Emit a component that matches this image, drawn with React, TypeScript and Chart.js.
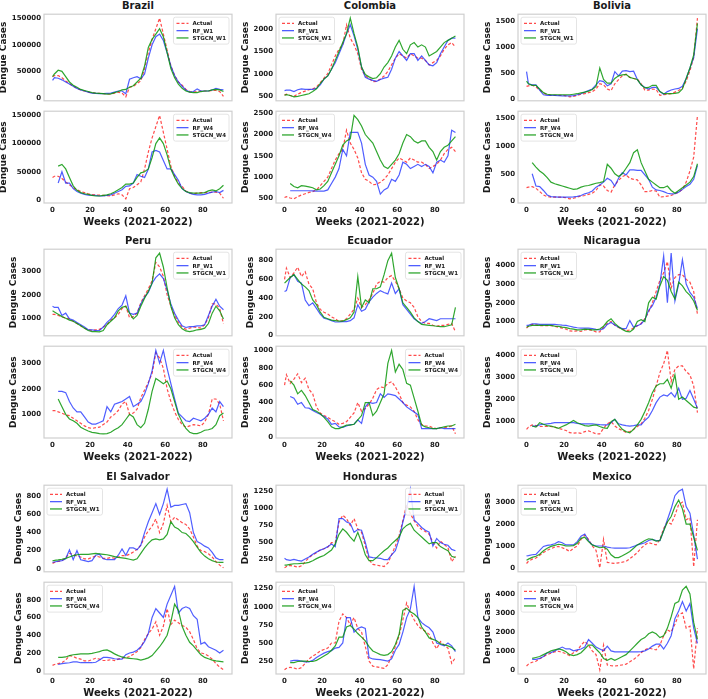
import React, { useEffect, useRef } from "react";
import { Chart, registerables } from "chart.js";

Chart.register(...registerables);
Chart.defaults.font.family = '"DejaVu Sans", sans-serif';

// Epidemiological weeks sampled for every series (2021-2022)
const WEEKS = [
  0, 1,
  3, 5, 7, 9, 11, 13, 15, 17, 19,
  21, 23, 25, 27, 29, 31, 33, 35, 37, 39,
  41, 43, 45, 47, 49, 51, 53, 55, 57, 59,
  61, 63, 65, 67, 69, 71, 73, 75, 77, 79,
  81, 83, 85, 87, 89, 91,
];
const X_TICKS = [0, 20, 40, 60, 80];

// ---------------- Brazil ----------------
const BRAZIL_ACTUAL = [
  40000, 42000,
  42000, 38000, 32000, 27000, 22000, 18000, 15000, 13000, 11000,
  9500, 9000, 8500, 8000, 7500, 7000, 9000, 11000, 9000, 2000,
  20000, 22000, 27000, 32000, 55000, 85000, 110000, 130000, 150000, 120000,
  90000, 60000, 42000, 30000, 24000, 16000, 12000, 11000, 12000, 13000,
  13000, 13000, 14000, 14000, 12000, 3000,
];
const BRAZIL_RF_W1 = [
  33000, 38000,
  37000, 34000, 30000, 26000, 22000, 18000, 15000, 13000, 11000,
  9000, 8500, 8000, 8000, 8500, 9000, 11000, 13000, 13000, 8000,
  35000, 38000, 40000, 36000, 45000, 75000, 100000, 115000, 120000, 108000,
  85000, 60000, 42000, 30000, 22000, 15000, 11000, 12000, 17000, 13000,
  13000, 13000, 15000, 18000, 16000, 15000,
];
const BRAZIL_STGCN_W1 = [
  40000, 45000,
  52000, 50000, 40000, 30000, 24000, 20000, 16000, 14000, 12000,
  10000, 9000, 8500, 8000, 7000, 7500, 10000, 12000, 15000, 16000,
  20000, 23000, 30000, 37000, 60000, 95000, 110000, 120000, 130000, 115000,
  85000, 55000, 38000, 26000, 18000, 13000, 11000, 10000, 10000, 12000,
  13000, 13000, 15000, 16000, 15000, 12000,
];
const BRAZIL_RF_W4 = [
  null, null,
  30000, 50000, 30000, 30000, 20000, 15000, 12000, 10000, 8500,
  8000, 8000, 7000, 7000, 8000, 9000, 12000, 15000, 18000, 24000,
  25000, 30000, 45000, 42000, 40000, 55000, 85000, 88000, 85000, 70000,
  55000, 55000, 45000, 35000, 20000, 15000, 12000, 10000, 9000, 9000,
  10000, 12000, 14000, 15000, 13000, 17000,
];
const BRAZIL_STGCN_W4 = [
  null, null,
  60000, 63000, 55000, 40000, 25000, 17000, 13000, 11000, 10000,
  8000, 7000, 7000, 8000, 9000, 11000, 14000, 18000, 22000, 28000,
  28000, 30000, 40000, 48000, 50000, 55000, 75000, 100000, 110000, 100000,
  80000, 55000, 40000, 28000, 20000, 15000, 13000, 12000, 12000, 12000,
  13000, 16000, 18000, 16000, 20000, 26000,
];
const BRAZIL_TICKS = [0, 50000, 100000, 150000];

// ---------------- Colombia ----------------
const COLOMBIA_ACTUAL = [
  520, 540,
  510, 490, 540, 580, 610, 640, 660, 700, 800,
  900, 1000, 1200, 1400, 1550, 1650, 2100, 1800, 1650, 1450,
  1100, 950, 900, 820, 830, 880, 950, 1050, 1200, 1350,
  1450, 1400, 1350, 1450, 1400, 1350, 1350, 1300, 1200, 1250,
  1300, 1400, 1550, 1650, 1700, 1600,
];
const COLOMBIA_RF_W1 = [
  620, 630,
  630, 600, 640, 660, 650, 650, 650, 670, 750,
  880, 950, 1100, 1250, 1450, 1650, 1900, 2100, 1850, 1550,
  1150, 920, 880, 850, 830, 870, 900, 920, 1100, 1350,
  1500, 1400, 1300, 1450, 1450, 1300, 1400, 1300, 1200, 1180,
  1250, 1450, 1600, 1750, 1800, 1800,
];
const COLOMBIA_STGCN_W1 = [
  520, 530,
  510, 480, 490, 510, 530, 550, 600, 660, 780,
  880, 950, 1100, 1300, 1500, 1700, 1900, 2250, 1900, 1600,
  1150, 980, 930, 890, 910, 1000, 1150, 1250, 1400, 1600,
  1750, 1550, 1450, 1650, 1700, 1600, 1650, 1600, 1400, 1450,
  1500, 1600, 1700, 1750, 1800, 1850,
];
const COLOMBIA_RF_W4 = [
  null, null,
  680, 680, 680, 680, 680, 680, 675, 670, 670,
  670, 700, 850, 1000, 1200, 1650, 1500, 2050, 2050, 2050,
  1800, 1300, 1050, 1000, 900, 600, 700, 750, 950, 900,
  1050, 1350, 1300, 1200, 1250, 1300, 1250, 1300, 1250, 1100,
  1350, 1400, 1350, 1500, 2100, 2050,
];
const COLOMBIA_STGCN_W4 = [
  null, null,
  850, 780, 750, 800, 790, 770, 750, 700, 720,
  800, 900, 1100, 1300, 1500, 1750, 1850, 1900, 2450, 2350,
  2200, 2000, 1900, 1800, 1600, 1400, 1250, 1200, 1300, 1400,
  1550, 1800, 2000, 1950, 1850, 1800, 1850, 1850, 1700, 1600,
  1400, 1600, 1700, 1750, 1850, 1950,
];
const COLOMBIA_TICKS = [500, 1000, 1500, 2000, 2500];

// ---------------- Bolivia ----------------
const BOLIVIA_ACTUAL = [
  250, 260,
  270, 240, 180, 120, 90, 80, 80, 80, 80,
  70, 50, 60, 80, 100, 110, 130, 150, 200, 300,
  280, 200, 170, 300, 380, 450, 480, 420, 400, 390,
  300, 180, 180, 200, 190, 80, 90, 100, 110, 140,
  170, 220, 350, 550, 800, 1550,
];
const BOLIVIA_RF_W1 = [
  530, 300,
  280, 280, 180, 90, 80, 80, 80, 75, 70,
  70, 70, 75, 90, 110, 140, 170, 200, 280, 360,
  340, 260, 300, 530, 450, 540, 550, 530, 540, 380,
  280, 230, 200, 230, 230, 150, 100, 150, 180, 200,
  210, 250, 400, 600, 800, 1350,
];
const BOLIVIA_STGCN_W1 = [
  350, 300,
  270, 270, 200, 130, 100, 90, 90, 90, 90,
  90, 90, 100, 110, 125, 140, 160, 190, 250, 600,
  380, 310, 310, 400, 450, 470, 480, 420, 400, 380,
  280, 220, 230, 270, 270, 150, 110, 110, 110, 115,
  130, 200, 400, 600, 850, 1450,
];
const BOLIVIA_RF_W4 = [
  null, null,
  500, 280, 270, 200, 120, 90, 85, 80, 80,
  80, 80, 85, 95, 110, 140, 160, 190, 260, 300,
  350, 420, 380, 280, 420, 520, 480, 570, 570, 560,
  560, 480, 400, 260, 210, 200, 180, 150, 140, 145,
  170, 220, 270, 310, 400, 650,
];
const BOLIVIA_STGCN_W4 = [
  null, null,
  700, 620, 550, 500, 430, 350, 320, 300, 280,
  260, 240, 220, 230, 260, 280, 290, 310, 330, 340,
  360, 670, 600, 500, 450, 500, 600, 700, 880, 930,
  700, 550, 400, 350, 300, 250, 250, 280, 200, 150,
  200, 250, 300, 350, 450, 680,
];
const BOLIVIA_TICKS = [0, 500, 1000, 1500];

// ---------------- Peru ----------------
const PERU_ACTUAL = [
  1150, 1150,
  1100, 1050, 980, 950, 850, 750, 650, 550, 480,
  450, 480, 500, 600, 700, 900, 1000, 1150, 1400, 1500,
  1000, 1050, 1200, 1650, 1950, 2250, 2600, 3400, 3200, 2800,
  2000, 1500, 1100, 800, 600, 500, 550, 600, 580, 550,
  700, 1000, 1600, 1600, 1400, 750,
];
const PERU_RF_W1 = [
  1500, 1450,
  1450, 1100, 1200, 950, 900, 800, 700, 600, 480,
  480, 450, 450, 600, 800, 950, 1150, 1400, 1550, 1950,
  1200, 1150, 1200, 1600, 1900, 2100, 2500, 2750, 2900, 2700,
  2200, 1600, 1200, 900, 650, 580, 620, 620, 650, 650,
  700, 1100, 1500, 1800, 1500, 1350,
];
const PERU_STGCN_W1 = [
  1300, 1250,
  1150, 1050, 980, 900, 850, 750, 650, 550, 450,
  400, 400, 390, 450, 700, 850, 1000, 1300, 1450, 1500,
  1200, 950, 1100, 1500, 1850, 2150, 2500, 3600, 3800, 3200,
  2300, 1500, 1000, 700, 520, 430, 400, 430, 480, 500,
  550, 750, 1200, 1500, 1300, 950,
];
const PERU_RF_W4 = [
  null, null,
  1900, 1900, 1850, 1500, 1250, 1100, 1100, 900, 700,
  620, 620, 680, 750, 1300, 1100, 1400, 1450, 1500, 1600,
  1700, 1300, 1400, 1500, 1800, 2200, 2700, 3500, 3000, 3500,
  2800, 2200, 1600, 1050, 900, 750, 720, 850, 800, 750,
  850, 1000, 1250, 1100, 1500, 1300,
];
const PERU_STGCN_W4 = [
  null, null,
  1600, 1300, 1000, 820, 750, 650, 500, 420, 350,
  300, 280, 250, 240, 250, 300, 400, 480, 600, 800,
  1000, 900, 600, 480, 650, 1200, 1900, 2400, 2300, 2200,
  2300, 2000, 1500, 1000, 700, 450, 300, 250, 250, 300,
  380, 400, 450, 600, 950, 1050,
];
const PERU_TICKS = [0, 1000, 2000, 3000, 4000];

// ---------------- Ecuador ----------------
const ECUADOR_ACTUAL = [
  600, 720,
  620, 670, 730, 630, 680, 550, 500, 350, 280,
  250, 230, 200, 180, 150, 160, 180, 230, 280, 400,
  300, 330, 380, 450, 550, 580, 570, 620, 640, 580,
  500, 400, 370, 350, 300, 200, 150, 130, 130, 110,
  100, 110, 110, 120, 130, 40,
];
const ECUADOR_RF_W1 = [
  470, 480,
  620, 650, 580, 560, 380, 320, 350, 290, 230,
  185, 175, 160, 145, 145, 150, 150, 160, 190, 330,
  260, 280, 360, 410, 450, 480, 460, 445, 560, 450,
  500, 330, 280, 230, 180, 150, 130, 150, 180, 170,
  160, 180, 180, 180, 180, 180,
];
const ECUADOR_STGCN_W1 = [
  560, 580,
  620, 650, 600, 550, 520, 480, 380, 330, 250,
  195, 180, 165, 160, 155, 155, 170, 190, 250, 630,
  300, 380, 350, 500, 500, 520, 650, 800, 880, 620,
  500, 350, 300, 250, 190, 150, 120, 115, 110, 105,
  100, 95, 95, 105, 115, 300,
];
const ECUADOR_RF_W4 = [
  null, null,
  470, 450, 380, 400, 340, 335, 310, 285, 265,
  240, 210, 150, 160, 120, 115, 130, 145, 150, 200,
  160, 350, 400, 390, 400, 500, 460, 500, 490, 480,
  440, 400, 350, 320, 290, 260, 100, 100, 100, 100,
  100, 110, 100, 100, 100, 100,
];
const ECUADOR_STGCN_W4 = [
  null, null,
  650, 600, 500, 540, 480, 400, 320, 300, 270,
  230, 180, 120, 100, 100, 120, 140, 140, 150, 200,
  250, 400, 400, 250, 300, 400, 500, 850, 1000, 750,
  840, 780, 620, 600, 450, 300, 140, 120, 110, 100,
  100, 110, 120, 130, 130, 150,
];
const ECUADOR_TICKS = [0, 200, 400, 600, 800, 1000];

// ---------------- Nicaragua ----------------
const NICARAGUA_ACTUAL = [
  650, 750,
  850, 820, 780, 780, 780, 780, 750, 700, 650,
  600, 500, 480, 500, 470, 550, 580, 520, 450, 450,
  700, 900, 1000, 800, 680, 600, 520, 550, 650, 780,
  900, 1150, 1500, 2000, 2600, 3200, 3600, 4200, 2800, 3350,
  3500, 3500, 3250, 3100, 2600, 1400,
];
const NICARAGUA_RF_W1 = [
  800, 800,
  880, 880, 850, 850, 850, 850, 850, 830, 810,
  800, 750, 700, 670, 650, 650, 650, 620, 580, 550,
  620, 850, 950, 820, 700, 620, 620, 1050, 700, 780,
  870, 1100, 1600, 1850, 2300, 3000, 4500, 2000, 4650, 2100,
  3000, 4300, 3000, 2550, 2300, 1700,
];
const NICARAGUA_STGCN_W1 = [
  700, 750,
  800, 800, 800, 800, 800, 800, 760, 740, 700,
  680, 620, 600, 560, 560, 600, 580, 560, 560, 600,
  750, 1000, 1150, 900, 720, 580, 480, 450, 600, 1000,
  1100, 1000, 2000, 2300, 2200, 2900, 3400, 3200, 2600, 2200,
  3100, 2900, 2600, 2400, 2100, 1600,
];
const NICARAGUA_RF_W4 = [
  null, null,
  800, 800, 850, 880, 900, 920, 950, 950, 950,
  950, 950, 950, 920, 900, 900, 900, 900, 880, 860,
  850, 850, 950, 1100, 900, 850, 820, 800, 820, 850,
  850, 1050, 1200, 1500, 1850, 2100, 2200, 2150, 2300, 2100,
  2500, 2000, 2050, 2400, 2000, 1600,
];
const NICARAGUA_STGCN_W4 = [
  null, null,
  800, 750, 950, 880, 820, 800, 750, 700, 780,
  850, 950, 1050, 950, 880, 820, 800, 830, 850, 780,
  720, 700, 1000, 1100, 850, 650, 550, 500, 650, 850,
  1100, 1450, 1850, 2300, 2600, 2700, 2700, 2900, 2500, 3100,
  2000, 2100, 1950, 1800, 1650, 1600,
];
const NICARAGUA_TICKS = [0, 1000, 2000, 3000, 4000];

// ---------------- El Salvador ----------------
const SALVADOR_ACTUAL = [
  60, 70,
  80, 90, 120, 170, 160, 140, 130, 110, 110,
  125, 140, 130, 115, 115, 125, 115, 130, 145, 145,
  160, 185, 215, 260, 350, 420, 470, 550, 400, 500,
  700, 520, 570, 540, 510, 490, 440, 350, 250, 200,
  190, 165, 130, 80, 40, 10,
];
const SALVADOR_RF_W1 = [
  70, 75,
  85, 90, 110, 210, 100, 200, 100, 90, 80,
  90, 150, 160, 110, 100, 100, 100, 150, 220, 150,
  230, 230, 210, 260, 400, 520, 620, 720, 600, 720,
  880, 680, 700, 700, 710, 720, 620, 400, 300, 280,
  250, 230, 180, 120, 100, 100,
];
const SALVADOR_STGCN_W1 = [
  90, 92,
  98, 105, 115, 130, 145, 155, 160, 160, 160,
  165, 170, 165, 160, 155, 145, 135, 125, 120, 115,
  105, 95, 110, 170, 230, 280, 320, 330, 320, 330,
  380, 520, 460, 440, 400, 390, 350, 300, 240, 180,
  140, 110, 90, 75, 70, 70,
];
const SALVADOR_RF_W4 = [
  null, null,
  70, 80, 85, 90, 100, 100, 90, 90, 90,
  90, 95, 120, 150, 150, 145, 135, 130, 130, 180,
  200, 210, 230, 270, 330, 420, 600, 700, 650, 600,
  750, 850, 950, 650, 700, 720, 700, 620, 580, 300,
  320, 270, 250, 230, 200, 230,
];
const SALVADOR_STGCN_W4 = [
  null, null,
  150, 150, 155, 170, 180, 185, 190, 190, 190,
  195, 205, 215, 230, 235, 215, 190, 170, 155, 145,
  140, 135, 130, 120, 130, 145, 170, 220, 270, 330,
  400, 550, 750, 680, 500, 400, 320, 280, 230, 180,
  150, 135, 120, 110, 105, 100,
];
const SALVADOR_TICKS = [0, 200, 400, 600, 800];

// ---------------- Honduras ----------------
const HONDURAS_ACTUAL = [
  130, 150,
  165, 155, 140, 160, 220, 280, 320, 350, 390,
  410, 430, 500, 500, 800, 900, 850, 750, 850, 700,
  650, 450, 250, 180, 170, 160, 150, 200, 320, 450,
  600, 820, 1050, 920, 820, 740, 690, 660, 620, 500,
  420, 520, 470, 430, 220, 300,
];
const HONDURAS_RF_W1 = [
  270, 250,
  240, 255, 240, 230, 260, 290, 330, 360, 390,
  410, 440, 480, 440, 850, 850, 800, 780, 650, 690,
  680, 500, 290, 280, 275, 270, 250, 250, 320, 380,
  550, 800, 1000, 1280, 830, 780, 720, 680, 650, 450,
  560, 500, 475, 460, 400, 380,
];
const HONDURAS_STGCN_W1 = [
  170, 170,
  180, 190, 190, 195, 200, 210, 235, 265, 290,
  310, 350, 390, 480, 620, 700, 650, 580, 520, 650,
  500, 320, 235, 235, 280, 330, 380, 420, 480, 530,
  580, 700, 750, 780, 680, 630, 580, 530, 480, 500,
  500, 440, 410, 380, 300, 280,
];
const HONDURAS_RF_W4 = [
  null, null,
  250, 260, 260, 250, 240, 240, 260, 300, 330,
  360, 380, 395, 430, 440, 500, 850, 850, 650, 700,
  720, 700, 300, 280, 275, 270, 260, 250, 280, 400,
  480, 650, 850, 970, 1280, 850, 780, 740, 710, 650,
  500, 480, 460, 500, 460, 380,
];
const HONDURAS_STGCN_W4 = [
  null, null,
  230, 230, 245, 250, 250, 245, 245, 260, 290,
  320, 350, 400, 460, 580, 580, 720, 740, 690, 630,
  580, 530, 450, 390, 365, 340, 330, 340, 380, 480,
  620, 950, 980, 930, 900, 850, 720, 650, 570, 550,
  530, 490, 475, 460, 440, 400,
];
const HONDURAS_TICKS = [250, 500, 750, 1000, 1250];

// ---------------- Mexico ----------------
const MEXICO_ACTUAL = [
  200, 300,
  400, 450, 580, 700, 800, 880, 950, 980, 920,
  850, 750, 900, 1000, 1300, 1500, 1300, 1000, 800, 0,
  1300, 250, 220, 200, 230, 260, 300, 420, 550, 700,
  900, 1050, 1150, 1100, 1050, 1300, 1800, 2100, 2000, 2400,
  2900, 3000, 2200, 2300, 50, 2200,
];
const MEXICO_RF_W1 = [
  550, 560,
  600, 620, 800, 980, 1030, 1050, 1100, 1200, 1150,
  1050, 1050, 1050, 1200, 1450, 1550, 1250, 1050, 1000, 1000,
  1000, 950, 920, 900, 900, 900, 900, 920, 980, 1050,
  1100, 1150, 1250, 1300, 1250, 1250, 1700, 2200, 2700, 3300,
  3500, 3600, 2800, 2500, 1500, 400,
];
const MEXICO_STGCN_W1 = [
  350, 400,
  480, 530, 620, 780, 900, 980, 1030, 1080, 1050,
  1000, 1000, 1020, 1120, 1350, 1400, 1200, 1050, 980, 920,
  950, 850, 600, 470, 470, 550, 650, 750, 900, 1050,
  1150, 1250, 1330, 1300, 1220, 1250, 1700, 2100, 2350, 2800,
  3100, 2700, 2000, 2000, 1400, 800,
];
const MEXICO_RF_W4 = [
  null, null,
  550, 550, 600, 700, 900, 900, 1000, 1100, 1200,
  1100, 1100, 1000, 1050, 1100, 1200, 1600, 1400, 1200, 1100,
  1000, 1250, 1000, 950, 950, 950, 950, 950, 950, 950,
  960, 1000, 1100, 1250, 1350, 1350, 1100, 1400, 1800, 2700,
  3100, 3600, 3100, 3500, 2200, 1400,
];
const MEXICO_STGCN_W4 = [
  null, null,
  600, 650, 700, 800, 900, 1000, 1050, 1100, 1050,
  950, 800, 750, 800, 900, 1100, 1300, 1300, 1100, 900,
  600, 500, 600, 500, 600, 700, 800, 1000, 1200, 1400,
  1600, 1700, 1900, 2000, 1900, 1700, 1800, 2200, 2800, 3500,
  3600, 4200, 4400, 4000, 2500, 1600,
];
const MEXICO_TICKS = [0, 1000, 2000, 3000, 4000];

// ---------------- styling / layout ----------------
const ACTUAL_COLOR = "rgba(255, 30, 30, 0.8)";
const RF_COLOR = "rgba(20, 40, 255, 0.75)";
const STGCN_COLOR = "rgba(10, 150, 10, 0.85)";
const TEXT_COLOR = "#1a1a1a";
const FONT = '"DejaVu Sans", sans-serif';

const TICK_FS = 7;
const YLABEL_FS = 9;
const TITLE_FS = 10;
const XLABEL_FS = 10;
const LEGEND_FS = 5.5;

const COL_LEFT = [44, 276, 518];
const ROW_TOP = [13, 248, 484];
const BOX_W = 188;
const BOX_H = 93;
const PANEL_GAP = 4;
const AXIS_W = 44;
const PAD_T = 6;
const PAD_R = 2;
const PAD_B = 2;
const X_AXIS_H = 13;

type Series = (number | null)[];
type Panel = {
  actual: Series;
  rf: Series;
  stgcn: Series;
  rfLabel: string;
  stgcnLabel: string;
  ticks: number[];
  legend: "left" | "right";
};
type Country = { name: string; top: Panel; bottom: Panel };

function pair(
  actual: Series, rfW1: Series, stW1: Series, rfW4: Series, stW4: Series,
  ticks: number[], legTop: "left" | "right", legBottom: "left" | "right"
) {
  return {
    top: { actual, rf: rfW1, stgcn: stW1, rfLabel: "RF_W1", stgcnLabel: "STGCN_W1", ticks, legend: legTop },
    bottom: { actual, rf: rfW4, stgcn: stW4, rfLabel: "RF_W4", stgcnLabel: "STGCN_W4", ticks, legend: legBottom },
  };
}

const COUNTRIES: Country[] = [
  { name: "Brazil", ...pair(BRAZIL_ACTUAL, BRAZIL_RF_W1, BRAZIL_STGCN_W1, BRAZIL_RF_W4, BRAZIL_STGCN_W4, BRAZIL_TICKS, "right", "right") },
  { name: "Colombia", ...pair(COLOMBIA_ACTUAL, COLOMBIA_RF_W1, COLOMBIA_STGCN_W1, COLOMBIA_RF_W4, COLOMBIA_STGCN_W4, COLOMBIA_TICKS, "left", "left") },
  { name: "Bolivia", ...pair(BOLIVIA_ACTUAL, BOLIVIA_RF_W1, BOLIVIA_STGCN_W1, BOLIVIA_RF_W4, BOLIVIA_STGCN_W4, BOLIVIA_TICKS, "left", "left") },
  { name: "Peru", ...pair(PERU_ACTUAL, PERU_RF_W1, PERU_STGCN_W1, PERU_RF_W4, PERU_STGCN_W4, PERU_TICKS, "right", "right") },
  { name: "Ecuador", ...pair(ECUADOR_ACTUAL, ECUADOR_RF_W1, ECUADOR_STGCN_W1, ECUADOR_RF_W4, ECUADOR_STGCN_W4, ECUADOR_TICKS, "right", "right") },
  { name: "Nicaragua", ...pair(NICARAGUA_ACTUAL, NICARAGUA_RF_W1, NICARAGUA_STGCN_W1, NICARAGUA_RF_W4, NICARAGUA_STGCN_W4, NICARAGUA_TICKS, "left", "left") },
  { name: "El Salvador", ...pair(SALVADOR_ACTUAL, SALVADOR_RF_W1, SALVADOR_STGCN_W1, SALVADOR_RF_W4, SALVADOR_STGCN_W4, SALVADOR_TICKS, "left", "left") },
  { name: "Honduras", ...pair(HONDURAS_ACTUAL, HONDURAS_RF_W1, HONDURAS_STGCN_W1, HONDURAS_RF_W4, HONDURAS_STGCN_W4, HONDURAS_TICKS, "right", "left") },
  { name: "Mexico", ...pair(MEXICO_ACTUAL, MEXICO_RF_W1, MEXICO_STGCN_W1, MEXICO_RF_W4, MEXICO_STGCN_W4, MEXICO_TICKS, "left", "left") },
];

const toPoints = (vals: Series) => WEEKS.map((w, i) => ({ x: w, y: vals[i] }));

// light frame around the plotting area
const framePlugin = {
  id: "panelFrame",
  beforeDatasetsDraw(chart: any) {
    const { left, top, right, bottom } = chart.chartArea;
    const ctx = chart.ctx;
    ctx.save();
    ctx.strokeStyle = "#cfcfcf";
    ctx.lineWidth = 1.2;
    ctx.strokeRect(left, top, right - left, bottom - top);
    ctx.restore();
  },
};

// rotated y-axis title placed just left of the widest tick label
const yTitlePlugin = {
  id: "panelYTitle",
  afterDraw(chart: any) {
    const ctx = chart.ctx;
    const scale = chart.scales.y;
    ctx.save();
    ctx.font = `bold ${TICK_FS}px ${FONT}`;
    let widest = 0;
    for (const t of scale.ticks) {
      widest = Math.max(widest, ctx.measureText(String(t.label ?? t.value)).width);
    }
    const { left, top, bottom } = chart.chartArea;
    const x = left - 3 - widest - 3 - YLABEL_FS * 0.55;
    ctx.translate(x, (top + bottom) / 2);
    ctx.rotate(-Math.PI / 2);
    ctx.font = `bold ${YLABEL_FS}px ${FONT}`;
    ctx.fillStyle = TEXT_COLOR;
    ctx.textAlign = "center";
    ctx.textBaseline = "middle";
    ctx.fillText("Dengue Cases", 0, 0);
    ctx.restore();
  },
};

// compact legend box drawn inside the plotting area
const legendPlugin = {
  id: "panelLegend",
  afterDatasetsDraw(chart: any, _args: any, opts: any) {
    const ctx = chart.ctx;
    const items = chart.data.datasets.map((d: any) => ({
      label: d.label,
      color: d.borderColor,
      dash: d.borderDash || [],
    }));
    ctx.save();
    ctx.font = `bold ${LEGEND_FS}px ${FONT}`;
    const textW = Math.max(...items.map((it: any) => ctx.measureText(it.label).width));
    const lineL = 12, gap = 4, padX = 3, padY = 2.5, rowH = 7.3;
    const w = padX + lineL + gap + textW + padX;
    const h = padY * 2 + rowH * items.length;
    const { left, right, top } = chart.chartArea;
    const x0 = opts.side === "right" ? right - 3 - w : left + 3;
    const y0 = top + 3;
    ctx.fillStyle = "rgba(255,255,255,0.85)";
    ctx.strokeStyle = "#dddddd";
    ctx.lineWidth = 0.8;
    ctx.beginPath();
    ctx.roundRect(x0, y0, w, h, 2);
    ctx.fill();
    ctx.stroke();
    items.forEach((it: any, i: number) => {
      const cy = y0 + padY + rowH * (i + 0.5);
      ctx.strokeStyle = it.color;
      ctx.lineWidth = 1.3;
      ctx.setLineDash(it.dash);
      ctx.beginPath();
      ctx.moveTo(x0 + padX, cy);
      ctx.lineTo(x0 + padX + lineL, cy);
      ctx.stroke();
      ctx.setLineDash([]);
      ctx.fillStyle = TEXT_COLOR;
      ctx.textAlign = "left";
      ctx.textBaseline = "middle";
      ctx.fillText(it.label, x0 + padX + lineL + gap, cy + 0.5);
    });
    ctx.restore();
  },
};

function PanelChart({ left, top, panel, showX }: { left: number; top: number; panel: Panel; showX: boolean }) {
  const ref = useRef<HTMLCanvasElement>(null);
  const cw = AXIS_W + BOX_W + PAD_R;
  const ch = PAD_T + BOX_H + (showX ? X_AXIS_H : PAD_B);

  useEffect(() => {
    if (!ref.current) return;
    const values = [...panel.actual, ...panel.rf, ...panel.stgcn].filter((v) => v !== null) as number[];
    const lo = Math.min(...values);
    const hi = Math.max(...values);
    const margin = (hi - lo) * 0.05;
    const tickFont = { size: TICK_FS, weight: "bold" as const, family: FONT };

    const chart = new Chart(ref.current, {
      type: "line",
      data: {
        datasets: [
          { label: "Actual", data: toPoints(panel.actual), borderColor: ACTUAL_COLOR, borderDash: [3, 2], borderWidth: 1.2, pointRadius: 0, order: 3 },
          { label: panel.rfLabel, data: toPoints(panel.rf), borderColor: RF_COLOR, borderWidth: 1.2, pointRadius: 0, order: 2 },
          { label: panel.stgcnLabel, data: toPoints(panel.stgcn), borderColor: STGCN_COLOR, borderWidth: 1.2, pointRadius: 0, order: 1 },
        ] as any,
      },
      options: {
        animation: false,
        responsive: false,
        maintainAspectRatio: false,
        events: [],
        layout: { padding: { top: PAD_T, right: PAD_R, left: 0, bottom: showX ? 0 : PAD_B } },
        plugins: {
          legend: { display: false },
          tooltip: { enabled: false },
          panelLegend: { side: panel.legend },
        } as any,
        scales: {
          x: {
            type: "linear",
            min: -4.55,
            max: 95.55,
            display: showX,
            grid: { display: false, drawTicks: false },
            border: { display: false },
            ticks: { font: tickFont, color: TEXT_COLOR, padding: 3, maxRotation: 0, autoSkip: false, callback: (v: any) => String(v) },
            afterBuildTicks: (s: any) => { s.ticks = X_TICKS.map((v) => ({ value: v })); },
            afterFit: (s: any) => { s.height = showX ? X_AXIS_H : 0; },
          },
          y: {
            type: "linear",
            min: lo - margin,
            max: hi + margin,
            grid: { display: false, drawTicks: false },
            border: { display: false },
            ticks: { font: tickFont, color: TEXT_COLOR, padding: 3, autoSkip: false, callback: (v: any) => String(v) },
            afterBuildTicks: (s: any) => {
              s.ticks = panel.ticks.filter((v) => v >= s.min && v <= s.max).map((v) => ({ value: v }));
            },
            afterFit: (s: any) => { s.width = AXIS_W; },
          },
        } as any,
      },
      plugins: [framePlugin, yTitlePlugin, legendPlugin],
    });
    return () => chart.destroy();
  }, [panel, showX]);

  return (
    <canvas
      ref={ref}
      width={cw}
      height={ch}
      style={{ position: "absolute", left: left - AXIS_W, top: top - PAD_T, width: cw, height: ch }}
    />
  );
}

const textStyle = (size: number): React.CSSProperties => ({
  position: "absolute",
  width: BOX_W,
  textAlign: "center",
  fontFamily: FONT,
  fontWeight: "bold",
  fontSize: size,
  lineHeight: `${size + 2}px`,
  color: TEXT_COLOR,
  whiteSpace: "nowrap",
});

export default function App() {
  return (
    <div style={{ position: "absolute", left: 0, top: 0, width: 708, height: 699, background: "#ffffff", overflow: "hidden" }}>
      {COUNTRIES.map((c, i) => {
        const left = COL_LEFT[i % 3];
        const top = ROW_TOP[Math.floor(i / 3)];
        const bottomTop = top + BOX_H + PANEL_GAP;
        return (
          <React.Fragment key={c.name}>
            <div style={{ ...textStyle(TITLE_FS), left, top: top - TITLE_FS - 3 }}>{c.name}</div>
            <PanelChart left={left} top={top} panel={c.top} showX={false} />
            <PanelChart left={left} top={bottomTop} panel={c.bottom} showX={true} />
            <div style={{ ...textStyle(XLABEL_FS), left, top: bottomTop + BOX_H + X_AXIS_H }}>Weeks (2021-2022)</div>
          </React.Fragment>
        );
      })}
    </div>
  );
}
